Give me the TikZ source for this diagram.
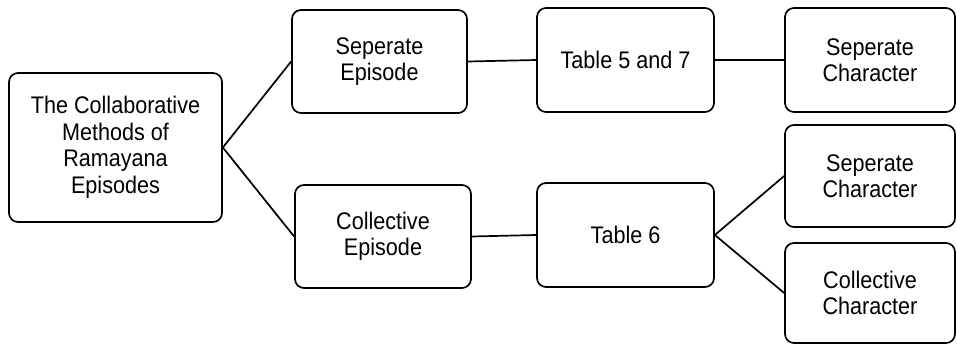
\documentclass[tikz,border=0pt]{standalone}
\usepackage{fontspec}
\setmainfont[FakeStretch=0.9]{Liberation Sans}
\usepackage{tikz}
\usetikzlibrary{positioning}
\tikzset{
  box/.style={draw,rounded corners=9pt,line width=1.7pt,align=center,
    inner sep=0pt,font=\fontsize{24}{26.5}\selectfont},
  link/.style={line width=1.7pt},
}

\begin{document}
\begin{tikzpicture}[x=1pt,y=-1pt]
      \useasboundingbox (0,0) rectangle (957,345);
      \node[box,minimum width=213pt,minimum height=149pt] (L) at (115.5,147.5) {The Collaborative\\Methods of\\Ramayana\\Episodes};
      \node[box,minimum width=175pt,minimum height=103pt] (SE) at (379.5,61.5) {Seperate\\Episode};
      \node[box,minimum width=176pt,minimum height=103pt] (CE) at (383,236.5) {Collective\\Episode};
      \node[box,minimum width=177pt,minimum height=104pt] (T57) at (625.5,60) {Table 5 and 7};
      \node[box,minimum width=177pt,minimum height=104pt] (T6) at (625.5,235) {Table 6};
      \node[box,minimum width=170pt,minimum height=104pt] (SC1) at (870,60) {Seperate\\Character};
      \node[box,minimum width=170pt,minimum height=102pt] (SC2) at (870,176) {Seperate\\Character};
      \node[box,minimum width=170pt,minimum height=100pt] (CC) at (870,293) {Collective\\Character};
    
      \draw[link] (L.east) -- (SE.west);
      \draw[link] (L.east) -- (CE.west);
      \draw[link] (SE.east) -- (T57.west);
      \draw[link] (CE.east) -- (T6.west);
      \draw[link] (T57.east) -- (SC1.west);
      \draw[link] (T6.east) -- (SC2.west);
      \draw[link] (T6.east) -- (CC.west);
    \end{tikzpicture}
\end{document}
